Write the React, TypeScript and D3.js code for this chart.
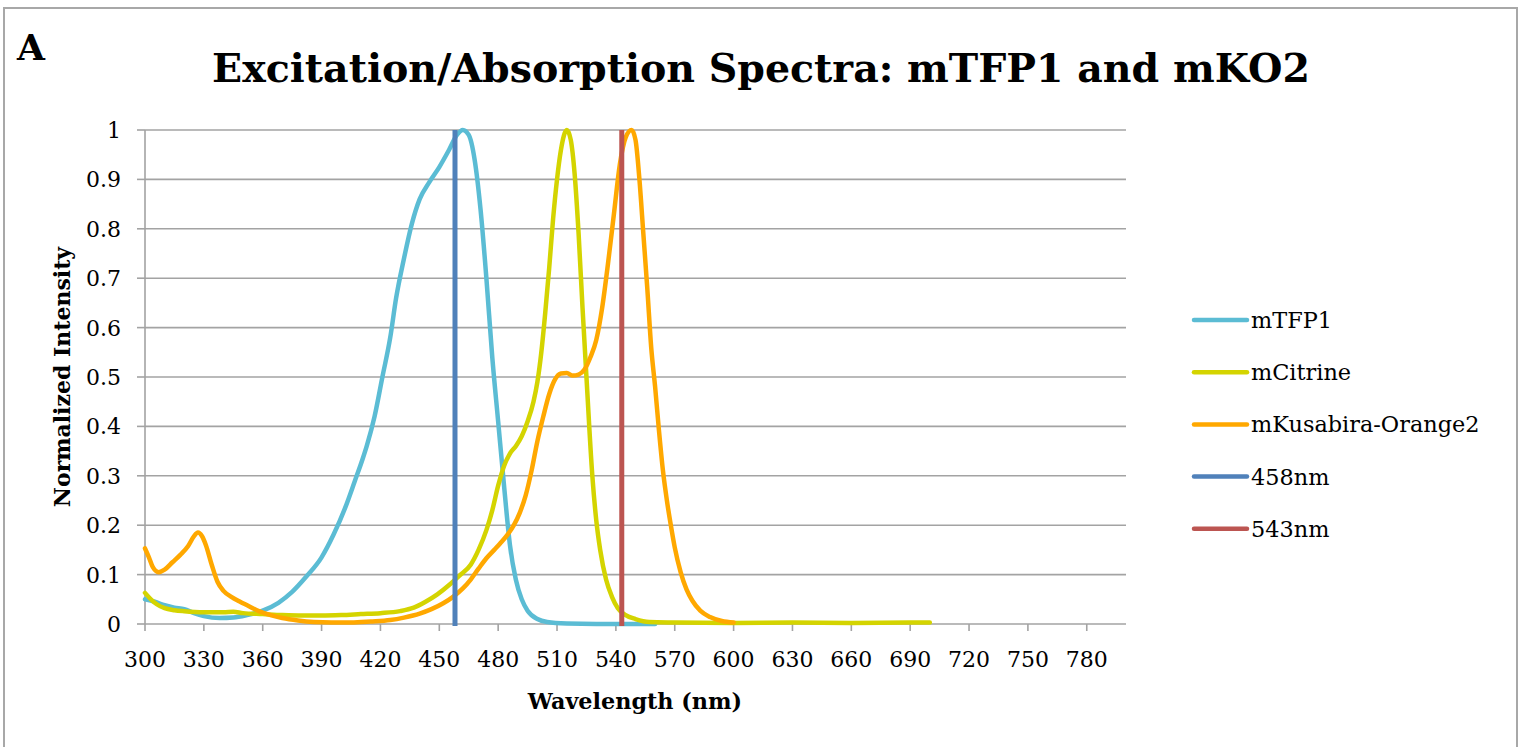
import * as d3 from 'd3';

type Pt = [number, number];

// wavelength (nm), normalized intensity
const mTFP1: Pt[] = [
  [300, 0.05], [305, 0.045], [310, 0.038], [315, 0.033], [320, 0.03], [325, 0.022],
  [330, 0.016], [338, 0.012], [345, 0.013], [352, 0.018], [360, 0.027], [368, 0.043],
  [375, 0.065], [382, 0.095], [390, 0.135], [396, 0.18], [402, 0.235], [407, 0.29],
  [411, 0.335], [413, 0.36], [417, 0.42], [421, 0.5], [425, 0.58], [428, 0.66],
  [432, 0.74], [436, 0.81], [440, 0.86], [445, 0.895], [450, 0.925], [455, 0.96],
  [459, 0.99], [462, 1.0], [465, 0.99], [468, 0.94], [471, 0.84], [474, 0.7],
  [477, 0.54], [480, 0.41], [483, 0.28], [486, 0.16], [489, 0.09], [492, 0.05],
  [495, 0.027], [500, 0.01], [505, 0.004], [515, 0.001], [530, 0], [560, 0],
];

const mCitrine: Pt[] = [
  [300, 0.063], [303, 0.05], [306, 0.04], [310, 0.032], [315, 0.028], [320, 0.026],
  [330, 0.024], [340, 0.024], [345, 0.025], [350, 0.022], [360, 0.02], [370, 0.018],
  [380, 0.017], [390, 0.017], [400, 0.018], [410, 0.02], [420, 0.022], [430, 0.026],
  [437, 0.033], [443, 0.045], [449, 0.06], [455, 0.079], [460, 0.097], [466, 0.12],
  [470, 0.15], [474, 0.19], [477, 0.23], [480, 0.28], [483, 0.32], [486, 0.345],
  [489, 0.36], [492, 0.38], [495, 0.41], [498, 0.45], [500, 0.49], [502, 0.55],
  [504, 0.63], [506, 0.72], [508, 0.82], [510, 0.9], [512, 0.96], [515, 1.0],
  [517, 0.98], [519, 0.91], [521, 0.79], [523, 0.64], [525, 0.5], [528, 0.3],
  [530, 0.21], [532, 0.15], [535, 0.09], [538, 0.055], [541, 0.032], [545, 0.018],
  [550, 0.01], [557, 0.004], [570, 0.003], [600, 0.002], [630, 0.003], [660, 0.002],
  [690, 0.003], [700, 0.003],
];

const mKO2: Pt[] = [
  [300, 0.153], [302, 0.135], [304, 0.115], [307, 0.105], [310, 0.11], [314, 0.125],
  [318, 0.14], [322, 0.158], [325, 0.178], [327, 0.185], [329, 0.178], [331, 0.16],
  [334, 0.12], [337, 0.085], [340, 0.067], [344, 0.055], [348, 0.046], [353, 0.036],
  [358, 0.026], [364, 0.018], [370, 0.012], [378, 0.007], [386, 0.004], [395, 0.003],
  [405, 0.003], [415, 0.005], [425, 0.008], [432, 0.013], [440, 0.021], [446, 0.03],
  [452, 0.042], [457, 0.055], [462, 0.072], [466, 0.09], [470, 0.112], [474, 0.133],
  [478, 0.15], [481, 0.163], [485, 0.182], [488, 0.2], [491, 0.225], [494, 0.26],
  [497, 0.31], [500, 0.37], [503, 0.42], [506, 0.465], [509, 0.495], [512, 0.507],
  [515, 0.508], [518, 0.503], [521, 0.505], [524, 0.515], [527, 0.54], [530, 0.575],
  [533, 0.64], [536, 0.73], [539, 0.83], [542, 0.93], [545, 0.985], [548, 1.0],
  [550, 0.98], [552, 0.9], [554, 0.79], [556, 0.68], [558, 0.56], [560, 0.48],
  [562, 0.39], [564, 0.31], [566, 0.25], [568, 0.2], [570, 0.155], [573, 0.105],
  [576, 0.07], [579, 0.047], [583, 0.027], [588, 0.014], [594, 0.006], [600, 0.003],
];

const laserWavelengths = [458, 543];

const seriesNames = ['mTFP1', 'mCitrine', 'mKusabira-Orange2', '458nm', '543nm'];
const seriesColors = ['#5BBCD4', '#D4D400', '#FFA800', '#5081BA', '#BC5551'];

const xTicks = d3.range(300, 781, 30);
const yTicks = d3.range(0, 11).map((d) => d / 10);

const W = 1525;
const H = 747;
const margin = { left: 145, right: 1126, top: 130, bottom: 624 };
const serif = '"DejaVu Serif", serif';

export default function App() {
  const x = d3.scaleLinear().domain([300, 800]).range([margin.left, margin.right]);
  const y = d3.scaleLinear().domain([0, 1]).range([margin.bottom, margin.top]);

  const line = d3
    .line<Pt>()
    .x((d) => x(d[0]))
    .y((d) => y(d[1]))
    .curve(d3.curveMonotoneX);

  const curves = [mTFP1, mCitrine, mKO2];
  const grid = '#A3A3A3';

  return (
    <svg
      width={W}
      height={H}
      style={{ position: 'absolute', left: 0, top: 0, background: '#fff' }}
    >
      <rect x={4} y={8} width={1513} height={760} fill="#fff" stroke="#A8A8A8" strokeWidth={2} />

      <text x={17} y={60} fontFamily={serif} fontWeight="bold" fontSize={36}>
        A
      </text>
      <text
        x={761}
        y={82}
        textAnchor="middle"
        fontFamily={serif}
        fontWeight="bold"
        fontSize={39.5}
      >
        Excitation/Absorption Spectra: mTFP1 and mKO2
      </text>

      {/* gridlines */}
      {yTicks.slice(1).map((t) => (
        <line key={t} x1={margin.left} x2={margin.right} y1={y(t)} y2={y(t)} stroke={grid} strokeWidth={1.6} />
      ))}

      {/* axes */}
      <line x1={margin.left} x2={margin.right} y1={y(0)} y2={y(0)} stroke={grid} strokeWidth={1.6} />
      <line x1={margin.left} x2={margin.left} y1={y(0)} y2={y(1)} stroke={grid} strokeWidth={1.6} />
      {xTicks.map((t) => (
        <g key={t}>
          <line x1={x(t)} x2={x(t)} y1={y(0)} y2={y(0) + 7} stroke={grid} strokeWidth={1.6} />
          <text x={x(t)} y={667} textAnchor="middle" fontFamily={serif} fontSize={22} fill="#000">
            {t}
          </text>
        </g>
      ))}
      {yTicks.map((t) => (
        <g key={t}>
          <line x1={margin.left - 8} x2={margin.left} y1={y(t)} y2={y(t)} stroke={grid} strokeWidth={1.6} />
          <text x={121} y={y(t) + 8} textAnchor="end" fontFamily={serif} fontSize={22} fill="#000">
            {t}
          </text>
        </g>
      ))}

      {/* spectra */}
      {curves.map((c, i) => (
        <path
          key={seriesNames[i]}
          d={line(c) ?? ''}
          fill="none"
          stroke={seriesColors[i]}
          strokeWidth={4.5}
          strokeLinejoin="round"
          strokeLinecap="round"
        />
      ))}

      {/* laser lines */}
      {laserWavelengths.map((wl, i) => (
        <line
          key={wl}
          x1={x(wl)}
          x2={x(wl)}
          y1={y(0) + 2}
          y2={y(1)}
          stroke={seriesColors[i + 3]}
          strokeWidth={5}
        />
      ))}

      {/* axis titles */}
      <text
        transform={`translate(70,${(margin.top + margin.bottom) / 2}) rotate(-90)`}
        textAnchor="middle"
        fontFamily={serif}
        fontWeight="bold"
        fontSize={22}
      >
        Normalized Intensity
      </text>
      <text x={635} y={709} textAnchor="middle" fontFamily={serif} fontWeight="bold" fontSize={22.3}>
        Wavelength (nm)
      </text>

      {/* legend */}
      {seriesNames.map((name, i) => {
        const ly = 320 + i * 52.2;
        return (
          <g key={name}>
            <line x1={1194} x2={1247} y1={ly} y2={ly} stroke={seriesColors[i]} strokeWidth={4.5} strokeLinecap="round" />
            <text x={1251} y={ly + 8} fontFamily={serif} fontSize={22.4} fill="#000">
              {name}
            </text>
          </g>
        );
      })}
    </svg>
  );
}
